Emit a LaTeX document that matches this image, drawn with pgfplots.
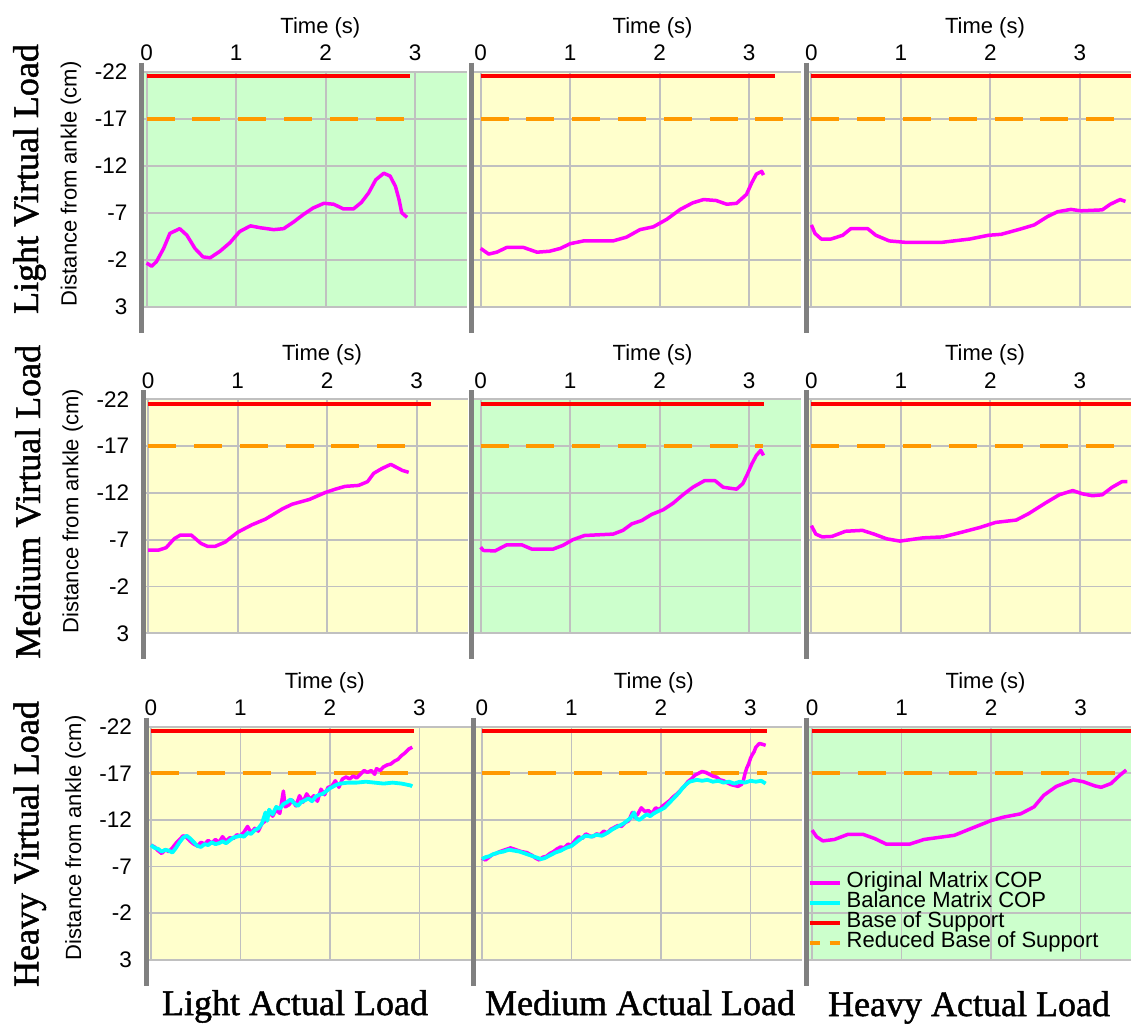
\documentclass[border=0pt]{standalone}
\usepackage{pgfplots}
\pgfplotsset{compat=1.18}
\usepackage{fontspec}
\setmainfont{Liberation Sans}
\newfontfamily\timesfont[BoldFont=Liberation Serif, BoldFeatures={FakeBold=1.3}]{Liberation Serif}

\definecolor{bggreen}{RGB}{204,255,204}
\definecolor{bgyellow}{RGB}{255,255,204}
\definecolor{gridgray}{RGB}{192,192,192}
\definecolor{axisgray}{RGB}{128,128,128}
\definecolor{copmag}{RGB}{255,0,255}
\definecolor{copcyan}{RGB}{0,255,255}
\definecolor{bosred}{RGB}{255,0,0}
\definecolor{rbosorange}{RGB}{255,153,0}

\newcommand\tickfont{\fontsize{22.5}{22.5}\selectfont}
\newcommand\labfont{\fontsize{22}{22}\selectfont}
\newcommand\rowfont{\timesfont\bfseries\fontsize{36}{36}\selectfont}

\pgfplotsset{
  panel/.style={
    scale only axis, ymin=-22, ymax=3, y dir=reverse, xmax=3.575,
    axis line style={draw=none},
    xtick={0,1,2,3}, xticklabels={0,1,2,3}, xticklabel pos=upper,
    ytick={-22,-17,-12,-7,-2,3}, yticklabels={},
    major tick length=0pt,
    grid=major, major grid style={draw=gridgray, line width=1.8pt},
    tick label style={font=\tickfont, inner sep=0pt},
    xticklabel style={anchor=base, yshift=11pt},
    yticklabel style={anchor=east, xshift=-14pt},
    xlabel={Time (s)},
    xlabel style={at={(axis description cs:0.55,1)}, anchor=base, yshift=38.5pt, font=\labfont, inner sep=0pt},
  },
  c1/.style={xmin=-0.055, width=324.9pt,
    yticklabels={-22,-17,-12,-7,-2,3},
    ylabel={Distance from ankle (cm)},
    ylabel style={at={(axis description cs:-0.2,0.523)}, anchor=base, font=\labfont, inner sep=0pt}},
  c2/.style={xmin=-0.1, width=328.9pt},
  c3/.style={xmin=-0.06, width=325.3pt},
  bg green/.style={axis background/.style={fill=bggreen}},
  bg yellow/.style={axis background/.style={fill=bgyellow}},
  orig/.style={copmag, line width=3.5pt, line join=round, no markers},
  bal/.style={copcyan, line width=3.8pt, line join=round, no markers},
  bos/.style={bosred, line width=4pt, no markers},
  rbos/.style={rbosorange, line width=4pt, dash pattern=on 28pt off 17.8pt, no markers},
}

\begin{document}
\begin{tikzpicture}
\path[use as bounding box] (0pt,0pt) rectangle (1131pt,-1023pt);

% ---------------- Light virtual load ----------------
\begin{axis}[panel, c1, bg green, name=r1c1, height=235pt, anchor=north west, at={(141.7pt,-71.7pt)}]
\addplot[bos] coordinates {(0,-21.5) (2.94,-21.5)};
\addplot[rbos] coordinates {(0,-17) (2.89,-17)};
\addplot[orig] coordinates {(0,-1.65)(0.056,-1.3)(0.11,-1.8)(0.19,-3.2)(0.26,-4.8)(0.37,-5.3)(0.45,-4.6)(0.54,-3.2)(0.63,-2.3)(0.71,-2.2)(0.82,-2.9)(0.93,-3.8)(1.04,-5.0)(1.16,-5.6)(1.27,-5.4)(1.42,-5.2)(1.53,-5.3)(1.64,-6.0)(1.75,-6.8)(1.86,-7.5)(1.98,-8.0)(2.09,-7.9)(2.2,-7.4)(2.31,-7.4)(2.4,-8.1)(2.48,-9.1)(2.56,-10.5)(2.65,-11.2)(2.72,-10.9)(2.78,-9.8)(2.82,-8.4)(2.85,-7.0)(2.91,-6.5)};
\end{axis}

\begin{axis}[panel, c2, bg yellow, name=r1c2, height=235pt, anchor=north west, at={(471.7pt,-71.7pt)}]
\addplot[bos] coordinates {(0,-21.5) (3.29,-21.5)};
\addplot[rbos] coordinates {(0,-17) (3.6,-17)};
\addplot[orig] coordinates {(0,-3.2)(0.09,-2.6)(0.18,-2.8)(0.29,-3.3)(0.48,-3.3)(0.63,-2.8)(0.77,-2.9)(0.89,-3.2)(1.0,-3.7)(1.15,-4.0)(1.48,-4.0)(1.63,-4.4)(1.78,-5.2)(1.93,-5.5)(2.08,-6.3)(2.23,-7.35)(2.37,-8.05)(2.49,-8.4)(2.63,-8.3)(2.75,-7.9)(2.86,-8.0)(2.97,-8.95)(3.03,-10.2)(3.08,-11.1)(3.14,-11.4)(3.16,-11.0)};
\end{axis}

\begin{axis}[panel, c3, bg yellow, name=r1c3, height=235pt, anchor=north west, at={(806pt,-71.7pt)}]
\addplot[bos] coordinates {(0,-21.5) (3.6,-21.5)};
\addplot[rbos] coordinates {(0,-17) (3.6,-17)};
\addplot[orig] coordinates {(0,-5.7)(0.04,-4.8)(0.11,-4.2)(0.22,-4.2)(0.35,-4.6)(0.44,-5.3)(0.63,-5.3)(0.72,-4.6)(0.87,-4.0)(1.05,-3.85)(1.46,-3.85)(1.77,-4.2)(1.98,-4.6)(2.12,-4.7)(2.35,-5.3)(2.49,-5.7)(2.64,-6.6)(2.75,-7.1)(2.9,-7.35)(3.01,-7.2)(3.25,-7.3)(3.34,-7.9)(3.45,-8.4)(3.51,-8.2)};
\end{axis}

% ---------------- Medium virtual load ----------------
\begin{axis}[panel, c1, bg yellow, name=r2c1, height=234pt, anchor=north west, at={(143.3pt,-399.3pt)}]
\addplot[bos] coordinates {(0,-21.5) (3.16,-21.5)};
\addplot[rbos] coordinates {(0,-17) (2.9,-17)};
\addplot[orig] coordinates {(0,-5.9)(0.12,-5.9)(0.2,-6.15)(0.29,-7.1)(0.36,-7.5)(0.48,-7.5)(0.59,-6.6)(0.66,-6.3)(0.75,-6.3)(0.86,-6.75)(1.0,-7.8)(1.16,-8.6)(1.31,-9.2)(1.5,-10.3)(1.61,-10.8)(1.8,-11.3)(1.98,-12.05)(2.09,-12.4)(2.2,-12.7)(2.35,-12.8)(2.45,-13.2)(2.52,-14.1)(2.61,-14.6)(2.71,-15.05)(2.78,-14.7)(2.84,-14.4)(2.91,-14.2)};
\end{axis}

\begin{axis}[panel, c2, bg green, name=r2c2, height=234pt, anchor=north west, at={(471.7pt,-399.3pt)}]
\addplot[bos] coordinates {(0,-21.5) (3.17,-21.5)};
\addplot[rbos] coordinates {(0,-17) (3.16,-17)};
\addplot[orig] coordinates {(0,-6.2)(0.03,-5.85)(0.16,-5.8)(0.29,-6.45)(0.46,-6.45)(0.57,-6.0)(0.81,-6.0)(0.92,-6.4)(1.03,-7.0)(1.16,-7.45)(1.48,-7.6)(1.59,-8.0)(1.69,-8.7)(1.8,-9.05)(1.91,-9.7)(2.04,-10.2)(2.15,-10.9)(2.26,-11.8)(2.37,-12.6)(2.5,-13.3)(2.62,-13.3)(2.71,-12.6)(2.86,-12.4)(2.93,-13.0)(2.98,-14.0)(3.03,-15.1)(3.08,-16.0)(3.13,-16.55)(3.16,-16.0)};
\end{axis}

\begin{axis}[panel, c3, bg yellow, name=r2c3, height=234pt, anchor=north west, at={(806pt,-399.3pt)}]
\addplot[bos] coordinates {(0,-21.5) (3.6,-21.5)};
\addplot[rbos] coordinates {(0,-17) (3.6,-17)};
\addplot[orig] coordinates {(0,-8.5)(0.05,-7.6)(0.12,-7.3)(0.23,-7.35)(0.38,-7.9)(0.57,-8.0)(0.7,-7.6)(0.84,-7.1)(0.99,-6.85)(1.25,-7.2)(1.47,-7.3)(1.66,-7.75)(1.88,-8.3)(2.06,-8.85)(2.29,-9.1)(2.43,-9.8)(2.62,-10.95)(2.77,-11.8)(2.92,-12.25)(3.03,-11.9)(3.14,-11.7)(3.25,-11.8)(3.36,-12.6)(3.47,-13.2)(3.53,-13.2)};
\end{axis}

% ---------------- Heavy virtual load ----------------
\begin{axis}[panel, c1, bg yellow, name=r3c1, height=233pt, anchor=north west, at={(146pt,-726.7pt)}]
\addplot[bos] coordinates {(0,-21.5) (2.94,-21.5)};
\addplot[rbos] coordinates {(0,-17) (2.89,-17)};
\addplot[orig] coordinates {(0.00,-9.3)(0.04,-9.1)(0.08,-8.7)(0.12,-8.4)(0.16,-8.8)(0.20,-8.6)(0.24,-9.0)(0.28,-9.5)(0.32,-9.9)(0.36,-10.3)(0.40,-10.1)(0.44,-9.7)(0.48,-9.4)(0.52,-9.2)(0.56,-9.6)(0.60,-9.4)(0.64,-9.8)(0.68,-9.5)(0.72,-9.9)(0.76,-9.6)(0.80,-10.2)(0.84,-9.7)(0.88,-10.1)(0.92,-10.0)(0.96,-10.4)(1.00,-10.3)(1.04,-10.7)(1.08,-11.3)(1.12,-10.6)(1.16,-11.1)(1.20,-10.8)(1.24,-11.6)(1.28,-11.9)(1.32,-12.9)(1.36,-12.4)(1.40,-13.1)(1.44,-12.7)(1.48,-15.1)(1.50,-13.4)(1.54,-13.6)(1.58,-14.1)(1.62,-13.5)(1.66,-14.6)(1.70,-13.9)(1.74,-14.8)(1.78,-14.2)(1.82,-14.6)(1.86,-14.0)(1.90,-15.3)(1.94,-14.7)(1.98,-15.5)(2.02,-15.6)(2.06,-16.2)(2.10,-15.5)(2.14,-16.4)(2.18,-16.6)(2.22,-16.4)(2.26,-16.7)(2.30,-16.5)(2.34,-16.9)(2.38,-17.3)(2.42,-17.1)(2.46,-17.3)(2.50,-16.9)(2.52,-17.5)(2.56,-17.3)(2.60,-17.7)(2.64,-17.9)(2.68,-18.0)(2.72,-18.3)(2.76,-18.5)(2.80,-18.9)(2.84,-19.2)(2.88,-19.6)(2.92,-19.8)};
\addplot[bal] coordinates {(0.00,-9.3)(0.04,-9.0)(0.08,-8.9)(0.12,-8.6)(0.16,-8.8)(0.20,-8.7)(0.24,-8.5)(0.28,-9.0)(0.32,-9.6)(0.36,-10.1)(0.40,-10.3)(0.44,-10.0)(0.48,-9.6)(0.52,-9.2)(0.56,-9.1)(0.60,-9.4)(0.64,-9.3)(0.68,-9.6)(0.72,-9.4)(0.76,-9.5)(0.80,-9.7)(0.84,-9.5)(0.88,-9.8)(0.92,-10.1)(0.96,-10.2)(1.00,-10.3)(1.04,-10.2)(1.08,-10.6)(1.12,-10.5)(1.16,-10.9)(1.20,-11.1)(1.24,-11.6)(1.28,-12.8)(1.30,-11.9)(1.32,-13.1)(1.36,-12.6)(1.40,-13.4)(1.44,-13.2)(1.48,-13.7)(1.52,-13.9)(1.56,-14.2)(1.60,-13.8)(1.64,-13.5)(1.68,-13.9)(1.72,-14.1)(1.76,-14.3)(1.80,-14.0)(1.84,-14.5)(1.88,-14.7)(1.92,-14.8)(1.96,-15.1)(2.00,-15.4)(2.04,-15.6)(2.08,-15.8)(2.12,-15.9)(2.20,-16.0)(2.30,-16.0)(2.40,-16.1)(2.50,-16.0)(2.60,-15.9)(2.70,-16.0)(2.80,-15.9)(2.90,-15.7)(2.92,-15.6)};
\end{axis}

\begin{axis}[panel, c2, bg yellow, name=r3c2, height=233pt, anchor=north west, at={(473pt,-726.7pt)}]
\addplot[bos] coordinates {(0,-21.5) (3.19,-21.5)};
\addplot[rbos] coordinates {(0,-17) (3.18,-17)};
\addplot[orig] coordinates {(0.00,-7.9)(0.04,-7.7)(0.08,-8.0)(0.12,-8.3)(0.16,-8.4)(0.20,-8.6)(0.26,-8.8)(0.32,-9.0)(0.38,-8.8)(0.44,-8.6)(0.50,-8.5)(0.56,-8.2)(0.60,-7.9)(0.64,-7.7)(0.68,-8.0)(0.72,-8.1)(0.76,-8.4)(0.80,-8.6)(0.84,-8.9)(0.88,-9.1)(0.92,-9.0)(0.96,-9.4)(1.00,-9.3)(1.04,-9.8)(1.08,-10.2)(1.12,-10.0)(1.16,-10.5)(1.20,-10.3)(1.24,-10.2)(1.28,-10.5)(1.32,-10.4)(1.36,-10.8)(1.40,-10.6)(1.44,-11.0)(1.48,-11.2)(1.52,-11.4)(1.56,-11.3)(1.60,-11.7)(1.64,-11.9)(1.68,-12.8)(1.70,-12.3)(1.74,-12.6)(1.78,-13.3)(1.82,-12.9)(1.86,-13.0)(1.90,-12.7)(1.94,-13.3)(1.98,-13.1)(2.02,-13.5)(2.06,-13.8)(2.10,-14.1)(2.14,-14.5)(2.18,-14.8)(2.22,-15.2)(2.26,-15.6)(2.30,-16.1)(2.34,-16.4)(2.38,-16.8)(2.42,-17.0)(2.46,-17.2)(2.50,-17.1)(2.54,-16.9)(2.58,-16.7)(2.62,-16.6)(2.66,-16.3)(2.70,-16.2)(2.74,-16.0)(2.78,-15.8)(2.82,-15.7)(2.86,-15.6)(2.90,-15.8)(2.92,-16.2)(2.94,-17.0)(2.96,-17.6)(2.98,-18.0)(3.00,-18.6)(3.02,-19.0)(3.04,-19.3)(3.06,-19.8)(3.08,-20.0)(3.10,-20.2)(3.14,-20.1)(3.17,-20.0)};
\addplot[bal] coordinates {(0.00,-7.8)(0.04,-8.0)(0.08,-8.1)(0.12,-8.3)(0.18,-8.5)(0.24,-8.6)(0.30,-8.8)(0.36,-8.7)(0.42,-8.6)(0.48,-8.4)(0.54,-8.2)(0.60,-8.0)(0.66,-7.8)(0.70,-7.9)(0.76,-8.2)(0.82,-8.5)(0.88,-8.7)(0.94,-9.0)(1.00,-9.2)(1.04,-9.5)(1.08,-9.8)(1.12,-10.1)(1.16,-10.3)(1.22,-10.2)(1.28,-10.4)(1.34,-10.3)(1.40,-10.6)(1.46,-11.0)(1.52,-11.3)(1.58,-11.6)(1.62,-11.9)(1.66,-12.2)(1.70,-12.8)(1.72,-12.2)(1.76,-12.0)(1.80,-12.3)(1.84,-12.6)(1.88,-12.4)(1.92,-12.7)(1.96,-12.9)(2.00,-13.1)(2.04,-13.3)(2.08,-13.7)(2.12,-14.1)(2.16,-14.5)(2.20,-14.9)(2.24,-15.4)(2.28,-15.8)(2.32,-16.1)(2.36,-16.2)(2.40,-16.3)(2.46,-16.2)(2.52,-16.3)(2.58,-16.1)(2.64,-16.2)(2.70,-16.0)(2.76,-16.1)(2.82,-15.9)(2.88,-16.1)(2.94,-16.0)(3.00,-16.2)(3.06,-16.1)(3.12,-16.2)(3.17,-15.9)};
\end{axis}

\begin{axis}[panel, c3, bg green, name=r3c3, height=233pt, anchor=north west, at={(806.7pt,-726.7pt)},
  legend style={at={(axis description cs:0.003,0.368)}, anchor=north west, draw=none, fill=none,
    inner sep=0pt, outer sep=0pt, font=\labfont, row sep=2pt, column sep=5pt,
    nodes={inner sep=0pt, text height=14pt, text depth=4pt}},
  legend cell align=left,
  legend image code/.code={\draw[#1] (0pt,0pt) -- (30pt,0pt);}]
\addplot[bos, forget plot] coordinates {(0,-21.5) (3.6,-21.5)};
\addplot[rbos, forget plot] coordinates {(0,-17) (3.6,-17)};
\addplot[orig, forget plot] coordinates {(0,-10.9)(0.05,-10.2)(0.12,-9.75)(0.25,-9.9)(0.4,-10.45)(0.57,-10.45)(0.7,-10.0)(0.83,-9.4)(1.09,-9.4)(1.25,-9.9)(1.4,-10.1)(1.59,-10.35)(1.77,-11.05)(2.0,-11.93)(2.14,-12.3)(2.33,-12.65)(2.48,-13.4)(2.59,-14.65)(2.73,-15.6)(2.92,-16.3)(3.03,-16.1)(3.16,-15.65)(3.23,-15.5)(3.34,-15.9)(3.44,-16.8)(3.51,-17.35)};
\addlegendimage{orig}
\addlegendentry{Original Matrix COP}
\addlegendimage{bal}
\addlegendentry{Balance Matrix COP}
\addlegendimage{bos}
\addlegendentry{Base of Support}
\addlegendimage{rbosorange, line width=4pt, dash pattern=on 10pt off 10pt}
\addlegendentry{Reduced Base of Support}
\end{axis}

% thick left axis bars
\foreach \p in {r1c1,r1c2,r1c3,r2c1,r2c2,r2c3,r3c1,r3c2,r3c3}
  \draw[axisgray, line width=5pt] ([yshift=9pt]\p.north west) -- ([yshift=-26pt]\p.south west);

% row and column headings
\node[rotate=90, anchor=base, font=\rowfont] at (38pt,-179pt) {Light Virtual Load};
\node[rotate=90, anchor=base, font=\rowfont] at (40pt,-501.7pt) {Medium Virtual Load};
\node[rotate=90, anchor=base, font=\rowfont] at (38.3pt,-844pt) {Heavy Virtual Load};
\node[anchor=base, font=\rowfont] at (295pt,-1015pt) {Light Actual Load};
\node[anchor=base, font=\rowfont] at (640pt,-1015pt) {Medium Actual Load};
\node[anchor=base, font=\rowfont] at (969pt,-1016pt) {Heavy Actual Load};
\end{tikzpicture}
\end{document}
